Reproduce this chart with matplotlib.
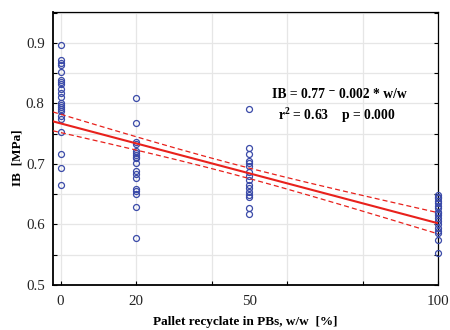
import numpy as np
import matplotlib
matplotlib.use("Agg")
import matplotlib.pyplot as plt
from matplotlib.ticker import FixedLocator, MultipleLocator, FormatStrFormatter

# ---- data ----
ib_0 = [0.897, 0.871, 0.867, 0.863, 0.852, 0.839, 0.836, 0.832, 0.823, 0.817,
        0.810, 0.800, 0.797, 0.794, 0.790, 0.787, 0.780, 0.774, 0.752,
        0.717, 0.693, 0.666]
ib_20 = [0.809, 0.768, 0.736, 0.733, 0.722, 0.718, 0.715, 0.712, 0.709, 0.701,
         0.688, 0.683, 0.677, 0.658, 0.655, 0.650, 0.629, 0.577]
ib_50 = [0.791, 0.726, 0.716, 0.705, 0.701, 0.697, 0.686, 0.680, 0.674, 0.666,
         0.660, 0.653, 0.649, 0.646, 0.627, 0.617]
ib_100 = [0.649, 0.646, 0.643, 0.639, 0.635, 0.631, 0.627, 0.621, 0.619, 0.616,
          0.610, 0.605, 0.600, 0.594, 0.589, 0.586, 0.574, 0.553]
levels = [0, 20, 50, 100]
xtick_labels = ["0", "20", "50", "100"]

# fitted regression line and 95% confidence band as drawn in the reference
fit_intercept = 0.767
fit_slope = -0.00165
band_min_half = 0.0085   # half-width at the band's narrowest point
band_center_x = 45.0
band_scale_x = 30.6

x = np.concatenate([[lv] * len(v) for lv, v in zip(levels, [ib_0, ib_20, ib_50, ib_100])]).astype(float)
y = np.concatenate([ib_0, ib_20, ib_50, ib_100])

xx = np.linspace(-2, 100, 200)
yy = fit_intercept + fit_slope * xx
half = band_min_half * np.sqrt(1 + ((xx - band_center_x) / band_scale_x) ** 2)

serif = ["Liberation Serif", "DejaVu Serif"]
plt.rcParams["mathtext.fontset"] = "custom"
plt.rcParams["mathtext.rm"] = "Liberation Serif"
plt.rcParams["mathtext.bf"] = "Liberation Serif:bold"

fig = plt.figure(figsize=(4.5, 3.3), dpi=100)
ax = fig.add_axes([53 / 450, 1 - 285 / 330, (438 - 53) / 450, (285 - 12) / 330])

ax.set_xlim(-2, 100)
ax.set_ylim(0.5, 0.951)

ax.xaxis.remove_overlapping_locs = False
ax.yaxis.remove_overlapping_locs = False
ax.xaxis.set_major_locator(FixedLocator(levels))
ax.set_xticklabels(xtick_labels)
ax.xaxis.set_minor_locator(FixedLocator([0, 20, 40, 60, 80, 100]))
ax.yaxis.set_major_locator(MultipleLocator(0.1))
ax.yaxis.set_minor_locator(MultipleLocator(0.05))
ax.yaxis.set_major_formatter(FormatStrFormatter("%.1f"))
ax.tick_params(which="major", labelsize=10.8, length=0)
ax.tick_params(axis="y", which="major", pad=6)
ax.tick_params(axis="x", which="major", pad=7)
ax.tick_params(which="minor", direction="in", length=3, width=0.8,
               top=False, right=True, left=True, bottom=True)
for lab in ax.get_yticklabels() + ax.get_xticklabels():
    lab.set_fontfamily(serif)
    lab.set_color("#222222")

ax.grid(True, which="minor", color="#e6e6e6", linewidth=0.9)
ax.grid(False, which="major")
ax.set_axisbelow(True)
for sp in ax.spines.values():
    sp.set_color("black")
    sp.set_linewidth(0.9)
ax.spines["left"].set_linewidth(1.3)
ax.spines["bottom"].set_linewidth(1.3)

ax.plot(x, y, linestyle="none", marker="o", markersize=4.3, markerfacecolor="none",
        markeredgecolor="#3a4aa8", markeredgewidth=0.9, zorder=3, clip_on=False)
ax.plot(xx, yy, color="#e8211c", linewidth=1.5, zorder=4)
ax.plot(xx, yy + half, color="#e8211c", linewidth=0.9, linestyle=(0, (4, 2.5)), zorder=4)
ax.plot(xx, yy - half, color="#e8211c", linewidth=0.9, linestyle=(0, (4, 2.5)), zorder=4)

ax.text(0.569, 0.696, "IB = 0.77 \u207b 0.002 * w/w", transform=ax.transAxes,
        fontfamily=serif, fontweight="bold", fontsize=9.8, va="center", ha="left")
ax.text(0.584, 0.623, r"r$^{\mathbf{2}}$ = 0.63    p = 0.000", transform=ax.transAxes,
        fontfamily=serif, fontweight="bold", fontsize=9.8, va="center", ha="left")

fig.text(18 / 450, 1 - 158 / 330, "IB  [MPa]", rotation=90, fontfamily=serif,
         fontweight="bold", fontsize=9.5, ha="center", va="center")
fig.text(245 / 450, 1 - 322 / 330, "Pallet recyclate in PBs, w/w  [%]", fontfamily=serif,
         fontweight="bold", fontsize=9.5, ha="center", va="center")

fig.savefig("out.png", dpi=100)
